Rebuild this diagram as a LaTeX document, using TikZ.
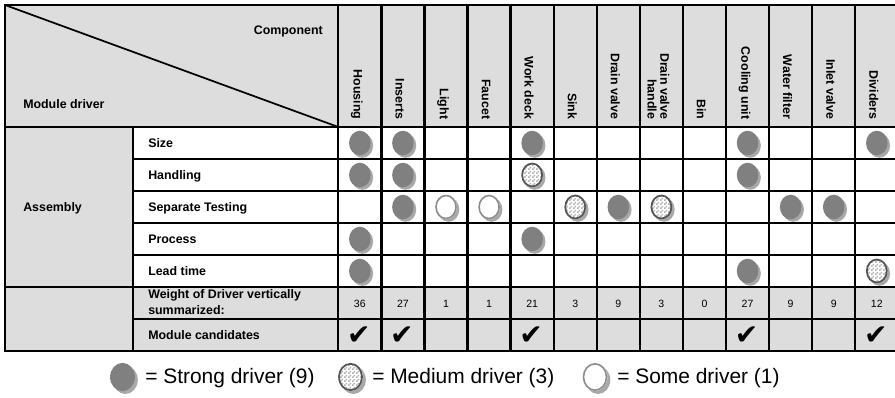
\documentclass[tikz,border=0pt]{standalone}
\usepackage{fontspec}
\setmainfont{Liberation Sans}
\newfontfamily\symfont{DejaVu Sans}
\usetikzlibrary{patterns}
\pgfdeclarepatternformonly{finecheck}{\pgfpointorigin}{\pgfqpoint{2.6pt}{2.6pt}}{\pgfqpoint{2.6pt}{2.6pt}}{%
  \pgfpathrectangle{\pgfpointorigin}{\pgfqpoint{1.35pt}{1.35pt}}%
  \pgfpathrectangle{\pgfqpoint{1.3pt}{1.3pt}}{\pgfqpoint{1.35pt}{1.35pt}}%
  \pgfusepath{fill}}
\definecolor{hdrgray}{HTML}{DDDDDD}
\definecolor{dotgray}{HTML}{808080}
\definecolor{shadgray}{HTML}{A8A8A8}
\definecolor{ringgray}{HTML}{8C8C8C}
\definecolor{medring}{HTML}{555555}
\definecolor{checkgray}{HTML}{B0B0B0}
\tikzset{
  gridline/.style={line width=1.7pt, black, line cap=rect},
  diagline/.style={line width=1.3pt, black},
  lbl/.style={font=\bfseries\fontsize{9.3}{12}\selectfont, inner sep=0pt},
  colh/.style={font=\bfseries\fontsize{9.3}{9.6}\selectfont, rotate=-90, anchor=east, inner sep=0pt, align=right},
  num/.style={font=\fontsize{7.9}{9}\selectfont, inner sep=0pt},
  chk/.style={font=\symfont\fontsize{21}{21}\selectfont, inner sep=0pt},
  leg/.style={font=\fontsize{15.7}{18}\selectfont, anchor=west, inner sep=0pt},
  strongdot/.pic={
    \fill[shadgray] (2.5,2.5) ellipse [x radius=8.1pt, y radius=9.2pt];
    \fill[dotgray] (0,0) ellipse [x radius=8.1pt, y radius=9.2pt];
  },
  mediumdot/.pic={
    \fill[shadgray] (2.5,2.5) ellipse [x radius=8.1pt, y radius=9.2pt];
    \fill[white] (0,0) ellipse [x radius=8.1pt, y radius=9.2pt];
    \fill[pattern=finecheck, pattern color=checkgray] (0,0) ellipse [x radius=8.1pt, y radius=9.2pt];
    \draw[medring, line width=1.3pt] (0,0) ellipse [x radius=7.5pt, y radius=8.6pt];
  },
  somedot/.pic={
    \fill[shadgray] (2.5,2.5) ellipse [x radius=8.1pt, y radius=9.2pt];
    \fill[white] (0,0) ellipse [x radius=8.1pt, y radius=9.2pt];
    \draw[ringgray, line width=1.2pt] (0,0) ellipse [x radius=7.5pt, y radius=8.6pt];
  },
}
\begin{document}
\begin{tikzpicture}[x=0.75pt,y=-0.75pt]
\useasboundingbox (0,0) rectangle (895,397);
\clip (0,0) rectangle (895,397);
\fill[white] (0,0) rectangle (895,397);
% backgrounds
\fill[hdrgray] (5,5) rectangle (898,127);
\fill[hdrgray] (5,127) rectangle (133,287);
\fill[hdrgray] (5,287) rectangle (898,351);
% grid
\begin{scope}[gridline]
\draw (5,5) -- (898,5);
\draw (5,5) -- (5,351);
\draw (5,351) -- (898,351);
\draw (5,127) -- (898,127);
\draw (5,287) -- (898,287);
\foreach \r in {159,191,223,255,319} \draw (133,\r) -- (898,\r);
\draw (133,127) -- (133,351);
\foreach \k in {0,...,13} \draw ({338.3+43.08*\k},5) -- ({338.3+43.08*\k},351);
\end{scope}
\coordinate (tl) at (5,5);
\coordinate (hc) at (338.3,127);
\draw[diagline] (tl) -- (hc);
% header texts
\node[lbl, anchor=base east] (comp) at (323,34.5) {Component};
\node[lbl, anchor=base west] (mdrv) at (23,108.5) {Module driver};
\foreach \c/\t in {1/Housing,2/Inserts,3/Light,4/Faucet,5/Work deck,6/Sink,7/Drain valve,8/{Drain valve\\handle},9/Bin,10/Cooling unit,11/Water filter,12/Inlet valve,13/Dividers}
  \node[colh] (h\c) at ({338.3+43.08*(\c-0.5)-3},119.5) {\t};
% row labels
\node[lbl, anchor=base west] (asm) at (23,211.5) {Assembly};
\node[lbl, anchor=base west] (r1) at (148,147.5) {Size};
\node[lbl, anchor=base west] (r2) at (148,179.5) {Handling};
\node[lbl, anchor=base west] (r3) at (148,211.5) {Separate Testing};
\node[lbl, anchor=base west] (r4) at (148,243.5) {Process};
\node[lbl, anchor=base west] (r5) at (148,275.5) {Lead time};
\node[lbl, anchor=west, align=left] (r6) at (148,302) {Weight of Driver vertically\\summarized:};
\node[lbl, anchor=base west] (r7) at (148,339.3) {Module candidates};
% markers
\foreach \c/\r in {1/1,2/1,5/1,10/1,13/1,1/2,2/2,10/2,2/3,7/3,11/3,12/3,1/4,5/4,1/5,10/5}
  \pic at ({338.3+43.08*(\c-0.5)},{127+32*(\r-0.5)}) {strongdot};
\foreach \c/\r in {5/2,6/3,8/3,13/5}
  \pic at ({338.3+43.08*(\c-0.5)},{127+32*(\r-0.5)}) {mediumdot};
\foreach \c/\r in {3/3,4/3}
  \pic at ({338.3+43.08*(\c-0.5)},{127+32*(\r-0.5)}) {somedot};
% weights
\foreach \c/\v in {1/36,2/27,3/1,4/1,5/21,6/3,7/9,8/3,9/0,10/27,11/9,12/9,13/12}
  \node[num] (w\c) at ({338.3+43.08*(\c-0.5)},303.5) {\v};
% checks
\foreach \c in {1,2,5,10,13}
  \node[chk] (k\c) at ({338.3+43.08*(\c-0.5)-1},336) {✔};
% legend
\pic[scale=1.15] at (122.5,377) {strongdot};
\node[leg] (l1) at (145,378.5) {= Strong driver (9)};
\pic[scale=1.15] at (350.5,377) {mediumdot};
\node[leg] (l2) at (372,378.5) {= Medium driver (3)};
\pic[scale=1.15] at (595,377) {somedot};
\node[leg] (l3) at (617,378.5) {= Some driver (1)};
\end{tikzpicture}
\end{document}
